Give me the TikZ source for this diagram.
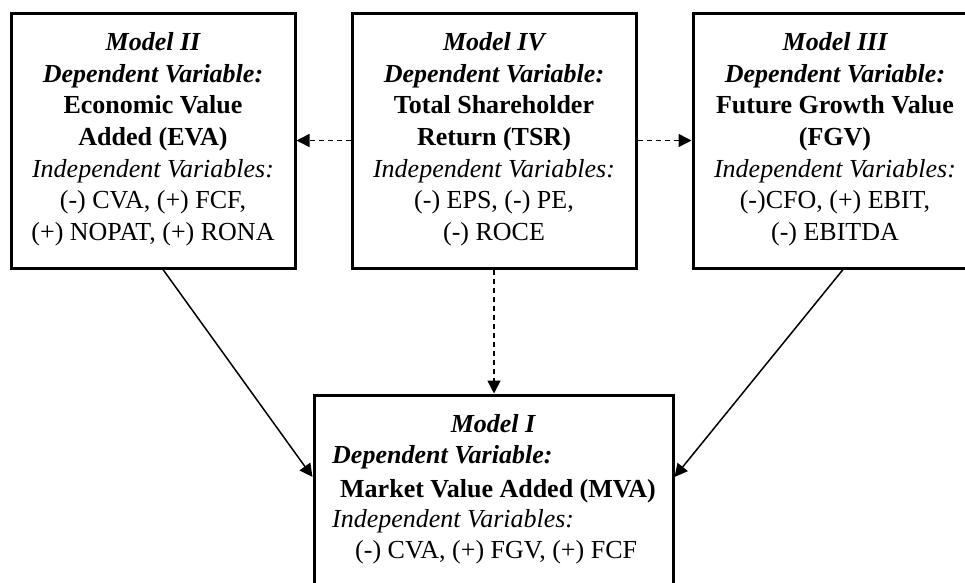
\documentclass[tikz,border=0pt]{standalone}
\usepackage{fontspec}
\setmainfont{Liberation Serif}
\usetikzlibrary{arrows.meta}
\begin{document}
\begin{tikzpicture}[x=1pt,y=-1pt,
  modelbox/.style={draw, line width=3pt, inner sep=0pt, minimum width=284pt},
  txt/.style={anchor=base, inner sep=0pt, font=\fontsize{26}{31}\selectfont},
  ltxt/.style={txt, anchor=base west},
  link/.style={line width=1.5pt, -{Triangle[length=13pt,width=13pt]}},
  dlink/.style={link, dash pattern=on 5pt off 4pt}]
\clip (0,0) rectangle (965,582);

% model boxes
\node[modelbox, minimum height=255pt] (m2) at (153,140.5) {};
\node[modelbox, minimum height=255pt] (m4) at (494,140.5) {};
\node[modelbox, minimum height=255pt] (m3) at (835,140.5) {};
\node[modelbox, minimum width=359pt, minimum height=200pt] (m1) at (493.5,495) {};

% Model II
\node[txt] (m2a) at (153,50)  {\bfseries\itshape Model II};
\node[txt] (m2b) at (153,82)  {\bfseries\itshape Dependent Variable:};
\node[txt] (m2c) at (153,113) {\bfseries Economic Value};
\node[txt] (m2d) at (153,145) {\bfseries Added (EVA)};
\node[txt] (m2e) at (153,177) {\itshape Independent Variables:};
\node[txt] (m2f) at (153,208) {(-) CVA, (+) FCF,};
\node[txt] (m2g) at (153,240) {(+) NOPAT, (+) RONA};

% Model IV
\node[txt] (m4a) at (494,50)  {\bfseries\itshape Model IV};
\node[txt] (m4b) at (494,82)  {\bfseries\itshape Dependent Variable:};
\node[txt] (m4c) at (494,113) {\bfseries Total Shareholder};
\node[txt] (m4d) at (494,145) {\bfseries Return (TSR)};
\node[txt] (m4e) at (494,177) {\itshape Independent Variables:};
\node[txt] (m4f) at (494,208) {(-) EPS, (-) PE,};
\node[txt] (m4g) at (494,240) {(-) ROCE};

% Model III
\node[txt] (m3a) at (835,50)  {\bfseries\itshape Model III};
\node[txt] (m3b) at (835,82)  {\bfseries\itshape Dependent Variable:};
\node[txt] (m3c) at (835,113) {\bfseries Future Growth Value};
\node[txt] (m3d) at (835,145) {\bfseries (FGV)};
\node[txt] (m3e) at (835,177) {\itshape Independent Variables:};
\node[txt] (m3f) at (835,208) {(-)CFO, (+) EBIT,};
\node[txt] (m3g) at (835,240) {(-) EBITDA};

% Model I
\node[txt]  (m1a) at (493,432) {\bfseries\itshape Model I};
\node[ltxt] (m1b) at (332,463) {\bfseries\itshape Dependent Variable:};
\node[ltxt] (m1c) at (340,497) {\bfseries Market Value Added (MVA)};
\node[ltxt] (m1d) at (332,527) {\itshape Independent Variables:};
\node[ltxt] (m1e) at (355,558) {(-) CVA, (+) FGV, (+) FCF};

% connectors
\draw[dlink] (m4.west) -- (m2.east);
\draw[dlink] (m4.east) -- (m3.west);
\draw[dlink] (m4.south) -- (m4.south |- m1.north);
\draw[link] ([xshift=10pt]m2.south) -- ([yshift=18pt]m1.west);
\draw[link] ([xshift=8pt]m3.south) -- ([yshift=18pt]m1.east);
\end{tikzpicture}
\end{document}
